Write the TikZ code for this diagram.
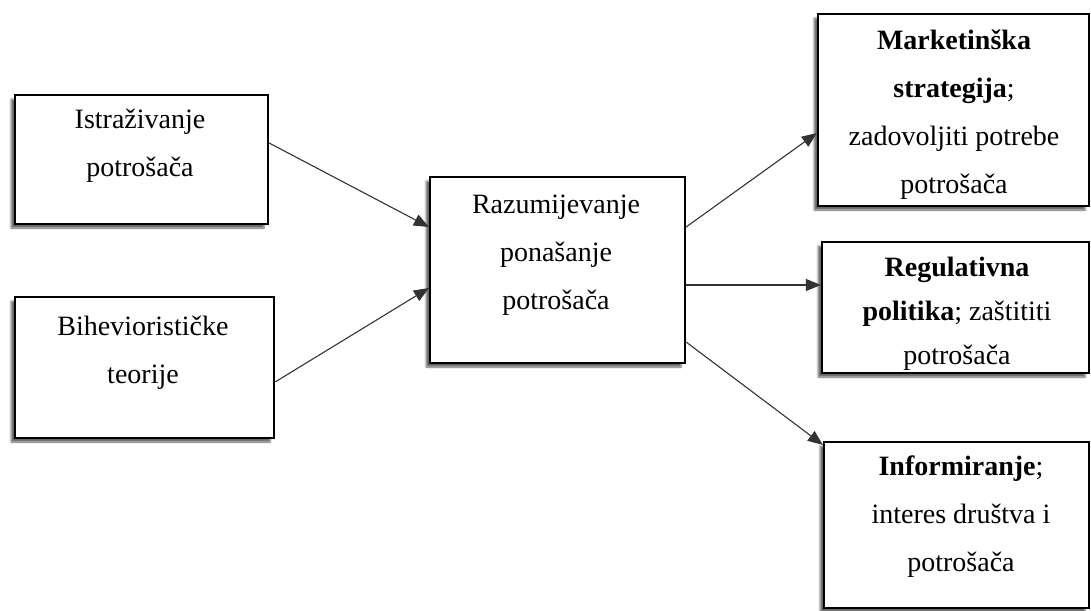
\documentclass[tikz,border=0pt]{standalone}
\usepackage{fontspec}
\setmainfont{Liberation Serif}
\usetikzlibrary{calc,arrows.meta,shadows.blur}

\begin{document}
\begin{tikzpicture}[x=1pt,y=-1pt,
                box/.style={draw,line width=2.2pt,fill=white,inner sep=0pt,
                  blur shadow={shadow xshift=-4pt,shadow yshift=-4pt,shadow blur steps=6,shadow opacity=60}},
                txt/.style={anchor=north,inner sep=0pt,align=center,font=\fontsize{28}{48}\selectfont},
                arr/.style={-{Triangle[length=15pt,width=12pt]},line width=1.1pt,black!80}
                ]
                \useasboundingbox (0,0) rectangle (1091,610);
                \node [box,minimum width=253pt,minimum height=129pt] (b1) at (141.5,159.5) {};
                \node [box,minimum width=259pt,minimum height=141pt] (b2) at (144.5,367.5) {};
                \node [box,minimum width=255pt,minimum height=186pt] (c) at (557.5,270) {};
                \node [box,minimum width=271pt,minimum height=192pt] (r1) at (953.5,110) {};
                \node [box,minimum width=267pt,minimum height=131pt] (r2) at (955.5,307.5) {};
                \node [box,minimum width=265pt,minimum height=166pt] (r3) at (956.5,525) {};
                \node [txt] (t1) at (140,107) {\rule{0pt}{21pt}Istraživanje\\potrošača};
                \node [txt] (t2) at (143,314) {\rule{0pt}{21pt}Biheviorističke\\teorije};
                \node [txt] (tc) at (556,192) {\rule{0pt}{21pt}Razumijevanje\\ponašanje\\potrošača};
                \node [txt] (tr1) at (954,28) {\rule{0pt}{21pt}\textbf{Marketinška}\\\textbf{strategija};\\zadovoljiti potrebe\\potrošača};
                \node [txt,font=\fontsize{28}{44}\selectfont] (tr2) at (957,255) {\rule{0pt}{21pt}\textbf{Regulativna}\\\textbf{politika}; zaštititi\\potrošača};
                \node [txt] (tr3) at (961,454) {\rule{0pt}{21pt}\textbf{Informiranje};\\interes društva i\\potrošača};
                \draw [arr] ($(b1.east)+(0,-16.5)$) -- ($(c.west)+(0,-43)$);
                \draw [arr] ($(b2.east)+(0,14.5)$) -- ($(c.west)+(0,18)$);
                \draw [arr] ($(c.east)+(0,-43)$) -- ($(r1.west)+(0,23)$);
                \draw [arr] ($(c.east)+(0,15)$) -- ($(r2.west)+(0,-22.5)$);
                \draw [arr] ($(c.east)+(0,72)$) -- ($(r3.north west)+(0,4)$);
\end{tikzpicture}
\end{document}
